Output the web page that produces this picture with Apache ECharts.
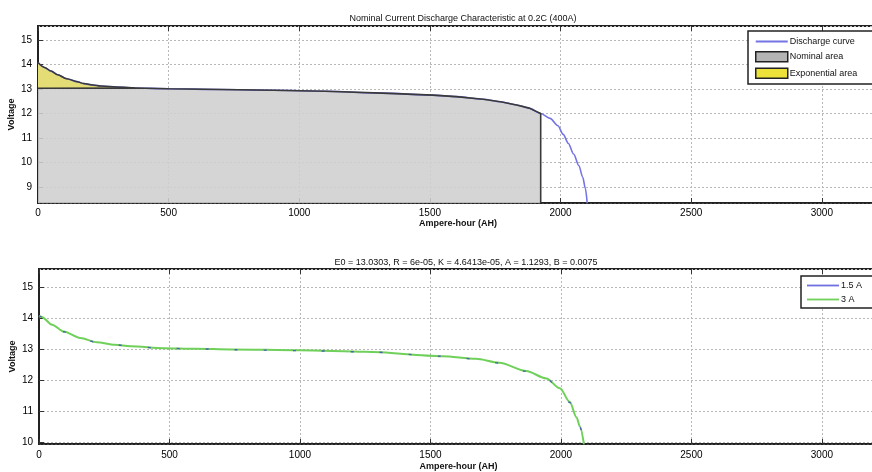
<!DOCTYPE html>
<html>
<head>
<meta charset="utf-8">
<script src="https://cdn.jsdelivr.net/npm/echarts@6/dist/echarts.min.js"></script>
<style>
  html, body { margin: 0; padding: 0; background: #fff; }
  #chart { width: 872px; height: 472px; }
</style>
</head>
<body>
<div id="chart"></div>
<script>
// top panel: nominal discharge curve (Ah, V)
const topAh   = [0, 25, 50, 75, 110, 150, 175, 210, 240, 300, 370, 500, 700, 900, 1100, 1318, 1511, 1600, 1704, 1770, 1832, 1880, 1924, 1960, 1990, 2010, 2030, 2050, 2070, 2085, 2095, 2102];
const topVolt = [14.08, 13.88, 13.73, 13.58, 13.42, 13.3, 13.22, 13.16, 13.12, 13.08, 13.04, 13.01, 12.98, 12.95, 12.91, 12.83, 12.75, 12.69, 12.58, 12.48, 12.35, 12.22, 12.0, 11.8, 11.5, 11.15, 10.78, 10.35, 9.88, 9.4, 8.95, 8.35];
const expEnd = 370;       // end of exponential zone (Ah)
const expBase = 13.03;    // voltage at end of exponential zone
const nominalEnd = 1924;  // end of nominal zone (Ah)

// bottom panel: simulated discharge at 1.5 A and 3 A
const curve15Ah   = [0, 10, 50, 94, 158, 222, 290, 351, 479, 600, 736, 1000, 1250, 1546, 1674, 1764, 1867, 1944, 1996, 2034, 2060, 2073, 2089];
const curve15Volt = [14.08, 14.05, 13.79, 13.57, 13.36, 13.23, 13.15, 13.1, 13.03, 13.02, 12.99, 12.96, 12.92, 12.78, 12.69, 12.56, 12.29, 12.05, 11.73, 11.28, 10.78, 10.48, 9.94];
const curve3Ah    = [0, 10, 50, 94, 158, 222, 290, 351, 479, 600, 736, 1000, 1250, 1546, 1674, 1764, 1867, 1944, 1996, 2034, 2060, 2073, 2088];
const curve3Volt  = [14.08, 14.05, 13.8, 13.58, 13.37, 13.23, 13.15, 13.1, 13.04, 13.02, 13.0, 12.97, 12.92, 12.78, 12.7, 12.57, 12.3, 12.06, 11.74, 11.3, 10.8, 10.5, 9.94];

// tick labels
const xTicks = [0, 500, 1000, 1500, 2000, 2500, 3000];
const topYTicks = [9, 10, 11, 12, 13, 14, 15];
const botYTicks = [10, 11, 12, 13, 14, 15];

const xMax = 3215;
const topYMin = 8.35, topYMax = 15.57;
const botYMin = 9.94, botYMax = 15.6;

const FONT = 'Liberation Sans, Arial, sans-serif';
const LINE_ICON = 'path://M0,0L32,0L32,1.8L0,1.8Z';

function pairs(xs, ys) {
    return xs.map((x, i) => [x, ys[i]]);
}

const topCurve = pairs(topAh, topVolt);
const expData = topCurve.filter(p => p[0] <= expEnd);
const nominalData = [[0, expBase]]
    .concat(topCurve.filter(p => p[0] >= expEnd && p[0] <= nominalEnd))
    .concat([[nominalEnd, topYMin]]);

function tickFormatter(list) {
    return v => (list.indexOf(Math.round(v * 100) / 100) >= 0 ? String(v) : '');
}

function xAxisMain(gridIndex, nameGap, labelMargin) {
    return {
        type: 'value', gridIndex: gridIndex, min: 0, max: xMax, splitNumber: 6,
        name: 'Ampere-hour (AH)', nameLocation: 'middle', nameGap: nameGap, nameMoveOverlap: false,
        nameTextStyle: {fontFamily: FONT, fontSize: 9, fontWeight: 'bold', color: '#111'},
        axisLine: {show: true, onZero: false, lineStyle: {color: '#222', width: 1.5}},
        axisTick: {show: true, inside: true, length: 5, lineStyle: {color: '#333'}},
        axisLabel: {fontFamily: FONT, fontSize: 10, color: '#000', margin: labelMargin,
                    formatter: tickFormatter(xTicks), showMaxLabel: false},
        splitLine: {show: true, lineStyle: {color: '#b8b8b8', type: [2, 2]}}
    };
}

function xAxisTop(gridIndex) {
    return {
        type: 'value', gridIndex: gridIndex, position: 'top', min: 0, max: xMax, splitNumber: 6,
        axisLine: {show: false},
        axisTick: {show: true, inside: true, length: 5, lineStyle: {color: '#333'}},
        axisLabel: {show: false},
        splitLine: {show: false}
    };
}

function yAxisMain(gridIndex, min, max, ticks) {
    return {
        type: 'value', gridIndex: gridIndex, min: min, max: max, splitNumber: 7,
        name: 'Voltage', nameLocation: 'middle', nameGap: 22, nameRotate: 90, nameMoveOverlap: false,
        nameTextStyle: {fontFamily: FONT, fontSize: 9, fontWeight: 'bold', color: '#111'},
        axisLine: {show: true, lineStyle: {color: '#222', width: 2}},
        axisTick: {show: true, inside: true, length: 5, lineStyle: {color: '#333'}},
        axisLabel: {fontFamily: FONT, fontSize: 10, color: '#000', margin: 6,
                    formatter: tickFormatter(ticks), showMinLabel: false, showMaxLabel: false},
        splitLine: {show: true, lineStyle: {color: '#b8b8b8', type: [2, 2]}}
    };
}

let myChart = echarts.init(document.getElementById('chart'));
let option = {
    animation: false,
    backgroundColor: '#fff',
    title: [{
        text: 'Nominal Current Discharge Characteristic at 0.2C (400A)',
        left: 458, top: 9, textAlign: 'center',
        textStyle: {fontFamily: FONT, fontSize: 9, fontWeight: 'normal', color: '#111'}
    }, {
        text: 'E0 = 13.0303, R = 6e-05, K = 4.6413e-05, A = 1.1293, B = 0.0075',
        left: 461, top: 253, textAlign: 'center',
        textStyle: {fontFamily: FONT, fontSize: 9, fontWeight: 'normal', color: '#111'}
    }],
    legend: [{
        orient: 'vertical', left: 748, top: 31, symbolKeepAspect: true,
        padding: [6, 30, 5, 7], itemGap: 5, itemWidth: 32, itemHeight: 10,
        backgroundColor: '#fff', borderColor: '#222', borderWidth: 1.5, borderRadius: 0,
        textStyle: {fontFamily: FONT, fontSize: 9, color: '#111', padding: [0, 0, 0, -3]},
        data: [
            {name: 'Discharge curve', icon: LINE_ICON, itemStyle: {color: '#7474e4', borderWidth: 0}},
            {name: 'Nominal area', icon: 'rect', itemStyle: {color: '#b4b4b4', borderColor: '#222', borderWidth: 1.5}},
            {name: 'Exponential area', icon: 'rect', itemStyle: {color: '#ece23a', borderColor: '#222', borderWidth: 1.5}}
        ]
    }, {
        orient: 'vertical', left: 801, top: 276, symbolKeepAspect: true,
        padding: [5, 40, 4, 6], itemGap: 5, itemWidth: 32, itemHeight: 10,
        backgroundColor: '#fff', borderColor: '#222', borderWidth: 1.5, borderRadius: 0,
        textStyle: {fontFamily: FONT, fontSize: 9, color: '#111', padding: [0, 0, 0, -3]},
        data: [
            {name: '1.5 A', icon: LINE_ICON, itemStyle: {color: '#7070e0', borderWidth: 0}},
            {name: '3 A', icon: LINE_ICON, itemStyle: {color: '#6fd05a', borderWidth: 0}}
        ]
    }],
    grid: [
        {left: 38, top: 26, right: -6, height: 177, show: true, borderColor: '#222', borderWidth: 2, outerBoundsMode: 'none', containLabel: false},
        {left: 39, top: 269, right: -6, height: 175, show: true, borderColor: '#222', borderWidth: 2, outerBoundsMode: 'none', containLabel: false}
    ],
    xAxis: [xAxisMain(0, 16, 5), xAxisTop(0), xAxisMain(1, 18, 6), xAxisTop(1)],
    yAxis: [yAxisMain(0, topYMin, topYMax, topYTicks), yAxisMain(1, botYMin, botYMax, botYTicks)],
    series: [{
        name: 'Discharge curve', type: 'line', xAxisIndex: 0, yAxisIndex: 0,
        data: topCurve, showSymbol: false, symbol: 'none', smooth: 0.3, smoothMonotone: 'x',
        lineStyle: {color: '#7474e4', width: 1.6}, itemStyle: {color: '#7474e4'}
    }, {
        name: 'Exponential area', type: 'line', xAxisIndex: 0, yAxisIndex: 0,
        data: expData, showSymbol: false, symbol: 'none', smooth: 0.3, smoothMonotone: 'x',
        lineStyle: {color: '#3a3a3a', width: 1.5}, itemStyle: {color: '#ece23a'},
        areaStyle: {color: '#e4dc74', opacity: 1, origin: expBase}
    }, {
        name: 'Nominal area', type: 'line', xAxisIndex: 0, yAxisIndex: 0,
        data: nominalData, showSymbol: false, symbol: 'none',
        lineStyle: {color: '#3a3a3a', width: 1.6}, itemStyle: {color: '#b4b4b4'},
        areaStyle: {color: '#cfcfcf', opacity: 0.88, origin: 'start'}
    }, {
        name: '3 A', type: 'line', xAxisIndex: 2, yAxisIndex: 1,
        data: pairs(curve3Ah, curve3Volt), showSymbol: false, symbol: 'none', smooth: 0.3, smoothMonotone: 'x',
        lineStyle: {color: '#6fd05a', width: 2}, itemStyle: {color: '#6fd05a'}
    }, {
        name: '1.5 A', type: 'line', xAxisIndex: 2, yAxisIndex: 1,
        data: pairs(curve15Ah, curve15Volt), showSymbol: false, symbol: 'none', smooth: 0.3, smoothMonotone: 'x',
        lineStyle: {color: '#4e5fae', width: 1.4, type: [3, 26]}, itemStyle: {color: '#7070e0'}
    }]
};
myChart.setOption(option);
</script>
</body>
</html>
